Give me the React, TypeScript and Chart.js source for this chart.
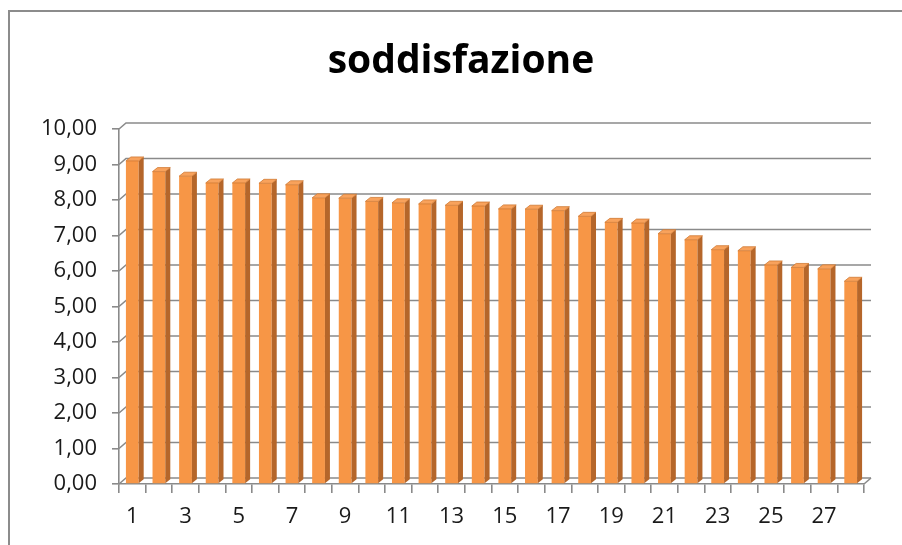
import React, { useEffect, useRef } from "react";
import { Chart, registerables } from "chart.js";

Chart.register(...registerables);

const categories = ["1","2","3","4","5","6","7","8","9","10","11","12","13","14","15","16","17","18","19","20","21","22","23","24","25","26","27","28"];
const satisfaction = [9.1, 8.8, 8.67, 8.48, 8.48, 8.47, 8.43, 8.06, 8.05, 7.96, 7.92, 7.89, 7.85, 7.83, 7.75, 7.74, 7.7, 7.54, 7.37, 7.35, 7.05, 6.88, 6.6, 6.57, 6.17, 6.1, 6.06, 5.71];
const yTickValues = [0, 1, 2, 3, 4, 5, 6, 7, 8, 9, 10];
const chartTitle = "soddisfazione";

const GRID = "#8a8a8a";
const FONT = "'Open Sans', 'Noto Sans', sans-serif";
const DX = 7;
const DY = 6;

const titleDraw = {
  id: "titleDraw",
  afterDraw(chart: any) {
    const ctx = chart.ctx;
    ctx.save();
    ctx.fillStyle = "#000000";
    ctx.font = `bold 39px ${FONT}`;
    ctx.textAlign = "center";
    ctx.textBaseline = "alphabetic";
    ctx.fillText(chartTitle, 461, 73);
    ctx.restore();
  },
};

const wall3d = {
  id: "wall3d",
  beforeDatasetsDraw(chart: any) {
    const ctx = chart.ctx;
    const { left, right, bottom } = chart.chartArea;
    const ys = chart.scales.y;
    ctx.save();
    ctx.strokeStyle = GRID;
    ctx.lineWidth = 1.6;
    yTickValues.forEach((v) => {
      const py = ys.getPixelForValue(v);
      ctx.beginPath();
      ctx.moveTo(left, py);
      ctx.lineTo(left + DX, py - DY);
      ctx.lineTo(right + DX, py - DY);
      ctx.stroke();
    });
    ctx.beginPath();
    ctx.moveTo(right, bottom);
    ctx.lineTo(right + DX, bottom - DY);
    ctx.stroke();
    ctx.restore();
  },
  afterDatasetsDraw(chart: any) {
    const ctx = chart.ctx;
    const meta = chart.getDatasetMeta(0);
    ctx.save();
    meta.data.forEach((el: any) => {
      const { x, y, base, width } = el.getProps(["x", "y", "base", "width"], true);
      const l = x - width / 2;
      const r = x + width / 2;
      const d = 5;
      const e = 4;
      ctx.fillStyle = "#B5662A";
      ctx.beginPath();
      ctx.moveTo(r, y);
      ctx.lineTo(r + d, y - e);
      ctx.lineTo(r + d, base - e);
      ctx.lineTo(r, base);
      ctx.closePath();
      ctx.fill();
      ctx.fillStyle = "#F8A25C";
      ctx.beginPath();
      ctx.moveTo(l, y);
      ctx.lineTo(l + d, y - e);
      ctx.lineTo(r + d, y - e);
      ctx.lineTo(r, y);
      ctx.closePath();
      ctx.fill();
      ctx.strokeStyle = "#D07A34";
      ctx.lineWidth = 0.8;
      ctx.stroke();
    });
    ctx.restore();
  },
};

export default function App() {
  const ref = useRef<HTMLCanvasElement | null>(null);

  useEffect(() => {
    if (!ref.current) return;
    const chart = new Chart(ref.current, {
      type: "bar",
      data: {
        labels: categories,
        datasets: [
          {
            label: chartTitle,
            data: satisfaction,
            backgroundColor: "#F79646",
            borderWidth: 0,
            barPercentage: 0.48,
            categoryPercentage: 1,
          },
        ],
      },
      options: {
        animation: false,
        responsive: false,
        devicePixelRatio: 1,
        layout: { padding: { left: 0, right: 38, top: 129, bottom: 0 } },
        plugins: {
          legend: { display: false },
          tooltip: { enabled: false },
          title: { display: false },
        },
        scales: {
          x: {
            grid: {
              offset: true,
              drawOnChartArea: false,
              drawTicks: true,
              tickLength: 9,
              color: GRID,
              lineWidth: 1.6,
            },
            border: { display: true, color: GRID, width: 1.6 },
            ticks: {
              autoSkip: false,
              maxRotation: 0,
              padding: 11,
              color: "#1a1a1a",
              font: { family: FONT, size: 22 },
              callback: (_v: any, i: number) => (i % 2 === 0 ? categories[i] : ""),
            },
            afterFit: (s: any) => {
              s.height = 61;
            },
          },
          y: {
            min: 0,
            max: 10,
            grid: {
              drawOnChartArea: false,
              drawTicks: true,
              tickLength: 7,
              color: GRID,
              lineWidth: 1.6,
            },
            border: { display: true, color: GRID, width: 1.6 },
            ticks: {
              stepSize: 1,
              padding: 15,
              color: "#1a1a1a",
              font: { family: FONT, size: 22 },
              callback: (v: any) => Number(v).toFixed(2).replace(".", ","),
            },
            afterFit: (s: any) => {
              s.width = 119;
            },
          },
        },
      },
      plugins: [wall3d, titleDraw],
    });
    return () => chart.destroy();
  }, []);

  return (
    <div style={{ position: "fixed", left: 0, top: 0, width: 902, height: 545, background: "#fff", overflow: "hidden" }}>
      <canvas ref={ref} width={902} height={545} style={{ display: "block" }} />
      <div
        style={{
          position: "absolute",
          left: 8,
          top: 10,
          width: 900,
          height: 540,
          borderLeft: "2px solid #8c8c8c",
          borderTop: "2px solid #8c8c8c",
          pointerEvents: "none",
        }}
      />
    </div>
  );
}
